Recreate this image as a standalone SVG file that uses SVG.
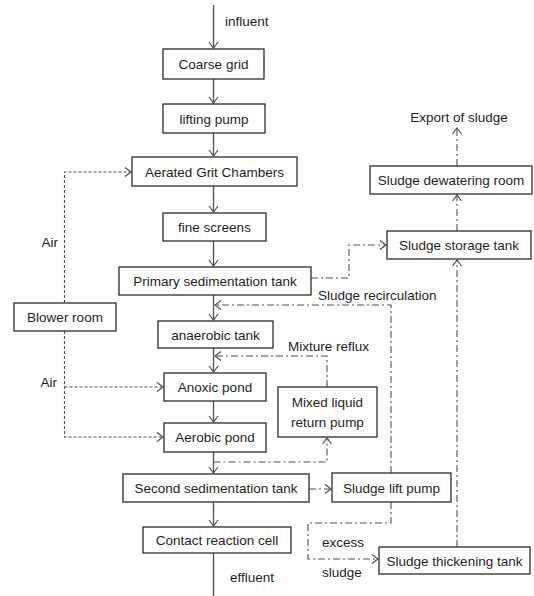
<svg xmlns="http://www.w3.org/2000/svg" width="534" height="596" viewBox="0 0 534 596">
<style>
.box rect{fill:#fff;stroke:#2b2b2b;stroke-width:1.3}
text{font-family:"Liberation Sans",Arial,sans-serif;font-size:13.5px;fill:#1e1e1e}
.c{text-anchor:middle}
.solid{fill:none;stroke:#505050;stroke-width:1.3}
.dash{fill:none;stroke:#505050;stroke-width:1.1;stroke-dasharray:3,2}
.dd{fill:none;stroke:#505050;stroke-width:1.1;stroke-dasharray:7,3,2,3}
</style>
<defs>
<marker id="ah" markerUnits="userSpaceOnUse" markerWidth="12" markerHeight="12" refX="7" refY="5" orient="auto" overflow="visible">
<path d="M1,0.5 L7,5 L1,9.5" fill="none" stroke="#505050" stroke-width="1.2"/>
</marker>
</defs>
<rect width="534" height="596" fill="#fff"/>
<g id="connectors">
<path class="solid" d="M213.5,5 V48" marker-end="url(#ah)"/>
<path class="solid" d="M213.5,79 V103" marker-end="url(#ah)"/>
<path class="solid" d="M213.5,133 V156" marker-end="url(#ah)"/>
<path class="solid" d="M213.5,186 V212" marker-end="url(#ah)"/>
<path class="solid" d="M213.5,241 V266" marker-end="url(#ah)"/>
<path class="solid" d="M213.5,295 V320" marker-end="url(#ah)"/>
<path class="solid" d="M213.5,348 V372" marker-end="url(#ah)"/>
<path class="solid" d="M213.5,401 V422" marker-end="url(#ah)"/>
<path class="solid" d="M213.5,452 V473" marker-end="url(#ah)"/>
<path class="solid" d="M213.5,502 V526" marker-end="url(#ah)"/>
<path class="solid" d="M213.5,553 V596"/>
<path class="dash" d="M64.5,303 V172 H131" marker-end="url(#ah)"/>
<path class="dash" d="M64.5,331 V437 H163" marker-end="url(#ah)"/>
<path class="dash" d="M64.5,387 H163" marker-end="url(#ah)"/>
<path class="dd" d="M311,278 H349 V245 H386" marker-end="url(#ah)"/>
<path class="dd" d="M391,473 V305 H215" marker-end="url(#ah)"/>
<path class="dd" d="M327,387 V356 H215" marker-end="url(#ah)"/>
<path class="dd" d="M213.5,462 H327 V438" marker-end="url(#ah)"/>
<path class="dd" d="M309,489 H331" marker-end="url(#ah)"/>
<path class="dd" d="M391,502 V523 H308 V559 H378" marker-end="url(#ah)"/>
<path class="dd" d="M457,547 V260" marker-end="url(#ah)"/>
<path class="dd" d="M457,231 V195" marker-end="url(#ah)"/>
<path class="dd" d="M457,166 V128" marker-end="url(#ah)"/>
</g>
<g id="labels">
<text x="225" y="26">influent</text>
<text x="230" y="582">effluent</text>
<text x="58" y="247" text-anchor="end">Air</text>
<text x="57" y="387" text-anchor="end">Air</text>
<text x="318" y="300">Sludge recirculation</text>
<text x="288" y="351">Mixture reflux</text>
<text x="322" y="547">excess</text>
<text x="322" y="577">sludge</text>
<text x="459" y="122" class="c">Export of sludge</text>
</g>
<g id="coarse-grid" class="box"><rect x="163" y="49" width="101" height="30"/><text x="213.5" y="69" class="c">Coarse grid</text></g>
<g id="lifting-pump" class="box"><rect x="163" y="104" width="102" height="29"/><text x="214" y="123.5" class="c">lifting pump</text></g>
<g id="aerated-grit-chambers" class="box"><rect x="132" y="157" width="165" height="29"/><text x="214.5" y="176.5" class="c">Aerated Grit Chambers</text></g>
<g id="fine-screens" class="box"><rect x="163" y="213" width="103" height="28"/><text x="214.5" y="232" class="c">fine screens</text></g>
<g id="primary-sedimentation-tank" class="box"><rect x="119" y="267" width="192" height="28"/><text x="215" y="286" class="c">Primary sedimentation tank</text></g>
<g id="blower-room" class="box"><rect x="14" y="303" width="102" height="28"/><text x="65" y="322" class="c">Blower room</text></g>
<g id="anaerobic-tank" class="box"><rect x="158" y="321" width="115" height="27"/><text x="215.5" y="339.5" class="c">anaerobic tank</text></g>
<g id="anoxic-pond" class="box"><rect x="164" y="373" width="102" height="28"/><text x="215" y="392" class="c">Anoxic pond</text></g>
<g id="aerobic-pond" class="box"><rect x="164" y="423" width="102" height="29"/><text x="215" y="442" class="c">Aerobic pond</text></g>
<g id="mixed-liquid-return-pump" class="box"><rect x="278" y="387" width="99" height="50"/><text x="327.5" y="407" class="c">Mixed liquid</text><text x="327.5" y="427" class="c">return pump</text></g>
<g id="second-sedimentation-tank" class="box"><rect x="123" y="474" width="186" height="28"/><text x="216" y="493" class="c">Second sedimentation tank</text></g>
<g id="sludge-lift-pump" class="box"><rect x="332" y="473" width="119" height="29"/><text x="391.5" y="492.5" class="c">Sludge lift pump</text></g>
<g id="contact-reaction-cell" class="box"><rect x="143" y="527" width="148" height="26"/><text x="217" y="545" class="c">Contact reaction cell</text></g>
<g id="sludge-thickening-tank" class="box"><rect x="379" y="547" width="151" height="27"/><text x="454.5" y="565.5" class="c">Sludge thickening tank</text></g>
<g id="sludge-storage-tank" class="box"><rect x="387" y="231" width="144" height="28"/><text x="459" y="250" class="c">Sludge storage tank</text></g>
<g id="sludge-dewatering-room" class="box"><rect x="370" y="166" width="162" height="28"/><text x="451" y="185" class="c">Sludge dewatering room</text></g>
</svg>
